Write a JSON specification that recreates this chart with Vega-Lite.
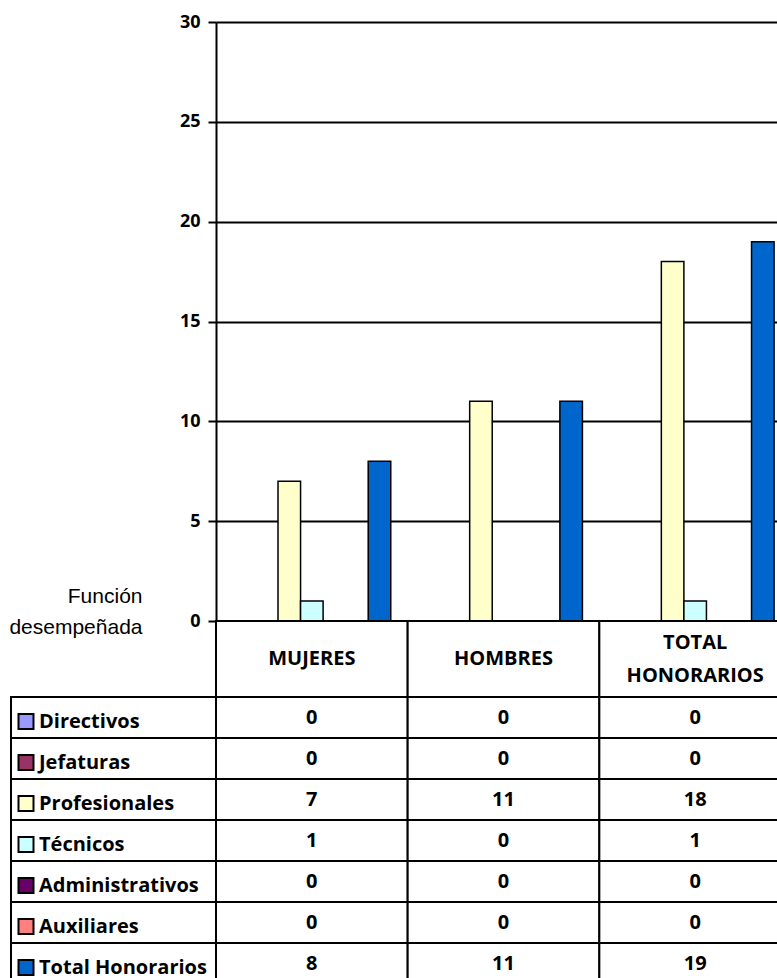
{
  "$schema": "https://vega.github.io/schema/vega-lite/v6.json",
  "background": "white",
  "padding": {"left": 8, "top": 13, "right": 0, "bottom": 0},
  "config": {"view": {"stroke": null}},
  "datasets": {
    "t": [
      {"grupo": "MUJERES", "funcion": "Directivos", "n": 0},
      {"grupo": "MUJERES", "funcion": "Jefaturas", "n": 0},
      {"grupo": "MUJERES", "funcion": "Profesionales", "n": 7},
      {"grupo": "MUJERES", "funcion": "Técnicos", "n": 1},
      {"grupo": "MUJERES", "funcion": "Administrativos", "n": 0},
      {"grupo": "MUJERES", "funcion": "Auxiliares", "n": 0},
      {"grupo": "MUJERES", "funcion": "Total Honorarios", "n": 8},
      {"grupo": "HOMBRES", "funcion": "Directivos", "n": 0},
      {"grupo": "HOMBRES", "funcion": "Jefaturas", "n": 0},
      {"grupo": "HOMBRES", "funcion": "Profesionales", "n": 11},
      {"grupo": "HOMBRES", "funcion": "Técnicos", "n": 0},
      {"grupo": "HOMBRES", "funcion": "Administrativos", "n": 0},
      {"grupo": "HOMBRES", "funcion": "Auxiliares", "n": 0},
      {"grupo": "HOMBRES", "funcion": "Total Honorarios", "n": 11},
      {"grupo": "TOTAL HONORARIOS", "funcion": "Directivos", "n": 0},
      {"grupo": "TOTAL HONORARIOS", "funcion": "Jefaturas", "n": 0},
      {"grupo": "TOTAL HONORARIOS", "funcion": "Profesionales", "n": 18},
      {"grupo": "TOTAL HONORARIOS", "funcion": "Técnicos", "n": 1},
      {"grupo": "TOTAL HONORARIOS", "funcion": "Administrativos", "n": 0},
      {"grupo": "TOTAL HONORARIOS", "funcion": "Auxiliares", "n": 0},
      {"grupo": "TOTAL HONORARIOS", "funcion": "Total Honorarios", "n": 19}
    ],
    "g": [
      {"grupo": "MUJERES"},
      {"grupo": "HOMBRES"},
      {"grupo": "TOTAL HONORARIOS"}
    ],
    "f": [
      {"funcion": "Directivos"},
      {"funcion": "Jefaturas"},
      {"funcion": "Profesionales"},
      {"funcion": "Técnicos"},
      {"funcion": "Administrativos"},
      {"funcion": "Auxiliares"},
      {"funcion": "Total Honorarios"}
    ]
  },
  "columns": 2,
  "spacing": 0,
  "bounds": "flush",
  "align": "each",
  "resolve": {
    "scale": {"x": "independent", "y": "independent", "xOffset": "independent"},
    "legend": {"color": "independent"}
  },
  "concat": [
    {
      "width": 205,
      "height": 599,
      "data": {"values": [{}]},
      "mark": {"type": "text", "text": ""},
      "encoding": {}
    },
    {
      "width": 575,
      "height": 599,
      "data": {"name": "t"},
      "mark": {"type": "bar", "stroke": "black", "strokeWidth": 1.5},
      "encoding": {
        "x": {
          "field": "grupo", "type": "nominal",
          "sort": ["MUJERES", "HOMBRES", "TOTAL HONORARIOS"],
          "scale": {"paddingInner": 0, "paddingOuter": 0},
          "axis": null
        },
        "xOffset": {
          "field": "funcion", "type": "nominal",
          "sort": ["Directivos", "Jefaturas", "Profesionales", "Técnicos", "Administrativos", "Auxiliares", "Total Honorarios"],
          "scale": {"paddingInner": 0, "paddingOuter": 0.75}
        },
        "y": {
          "field": "n", "type": "quantitative",
          "scale": {"domain": [0, 30]},
          "axis": {
            "values": [0, 5, 10, 15, 20, 25, 30],
            "grid": true, "gridColor": "black", "gridWidth": 2, "gridOpacity": 1,
            "domainColor": "black", "domainWidth": 2,
            "tickColor": "black", "tickWidth": 2, "tickSize": 8,
            "labelFont": "Open Sans", "labelFontSize": 18, "labelFontWeight": "bold",
            "labelColor": "black", "labelPadding": 8,
            "title": ["Función", "desempeñada"],
            "titleAngle": 0, "titleFont": "Liberation Sans", "titleFontSize": 21,
            "titleFontWeight": "normal", "titleColor": "black",
            "titleAlign": "right", "titleBaseline": "alphabetic",
            "titleX": -74, "titleY": 580, "titleLineHeight": 31
          }
        },
        "color": {
          "field": "funcion", "type": "nominal",
          "sort": ["Directivos", "Jefaturas", "Profesionales", "Técnicos", "Administrativos", "Auxiliares", "Total Honorarios"],
          "scale": {
            "domain": ["Directivos", "Jefaturas", "Profesionales", "Técnicos", "Administrativos", "Auxiliares", "Total Honorarios"],
            "range": ["#9999FF", "#993366", "#FFFFCC", "#CCFFFF", "#660066", "#FF8080", "#0066CC"]
          },
          "legend": {
            "orient": "none", "legendX": -200, "legendY": 679,
            "title": null, "direction": "vertical",
            "symbolType": "square", "symbolSize": 225,
            "symbolStrokeColor": "black", "symbolStrokeWidth": 2, "symbolOpacity": 1,
            "labelFont": "Open Sans", "labelFontSize": 20, "labelFontWeight": "bold",
            "labelColor": "black", "labelOffset": 3, "labelLimit": 300,
            "clipHeight": 41, "rowPadding": 0, "padding": 0
          }
        }
      }
    },
    {
      "width": 205,
      "height": 76,
      "data": {"values": [{}]},
      "mark": {"type": "text", "text": ""},
      "encoding": {}
    },
    {
      "width": 575,
      "height": 76,
      "data": {"name": "g"},
      "encoding": {
        "x": {
          "field": "grupo", "type": "nominal",
          "sort": ["MUJERES", "HOMBRES", "TOTAL HONORARIOS"],
          "scale": {"paddingInner": 0, "paddingOuter": 0},
          "axis": null
        }
      },
      "layer": [
        {"mark": {"type": "rect", "fill": "white", "stroke": "black", "strokeWidth": 2}},
        {
          "transform": [{"filter": "indexof(datum.grupo, ' ') < 0"}],
          "mark": {"type": "text", "font": "Open Sans", "fontSize": 20, "fontWeight": "bold", "color": "black", "baseline": "middle"},
          "encoding": {"text": {"field": "grupo"}}
        },
        {
          "transform": [{"filter": "indexof(datum.grupo, ' ') >= 0"}],
          "mark": {"type": "text", "font": "Open Sans", "fontSize": 20, "fontWeight": "bold", "color": "black", "lineBreak": " ", "lineHeight": 33, "baseline": "middle", "dy": -16.5},
          "encoding": {"text": {"field": "grupo"}}
        }
      ]
    },
    {
      "width": 205,
      "height": 287,
      "data": {"name": "f"},
      "mark": {"type": "rect", "filled": false, "stroke": "black", "strokeWidth": 2},
      "encoding": {
        "y": {
          "field": "funcion", "type": "nominal",
          "sort": ["Directivos", "Jefaturas", "Profesionales", "Técnicos", "Administrativos", "Auxiliares", "Total Honorarios"],
          "scale": {"paddingInner": 0, "paddingOuter": 0},
          "axis": null
        }
      }
    },
    {
      "width": 575,
      "height": 287,
      "data": {"name": "t"},
      "encoding": {
        "x": {
          "field": "grupo", "type": "nominal",
          "sort": ["MUJERES", "HOMBRES", "TOTAL HONORARIOS"],
          "scale": {"paddingInner": 0, "paddingOuter": 0},
          "axis": null
        },
        "y": {
          "field": "funcion", "type": "nominal",
          "sort": ["Directivos", "Jefaturas", "Profesionales", "Técnicos", "Administrativos", "Auxiliares", "Total Honorarios"],
          "scale": {"paddingInner": 0, "paddingOuter": 0},
          "axis": null
        }
      },
      "layer": [
        {"mark": {"type": "rect", "fill": "white", "stroke": "black", "strokeWidth": 2}},
        {
          "mark": {"type": "text", "font": "Open Sans", "fontSize": 20, "fontWeight": "bold", "color": "black", "baseline": "middle"},
          "encoding": {"text": {"field": "n", "type": "quantitative"}}
        }
      ]
    }
  ]
}
